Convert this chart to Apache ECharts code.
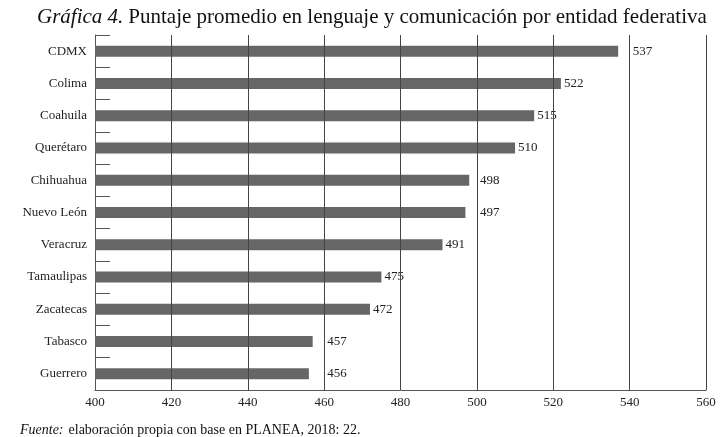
<!DOCTYPE html>
<html>
<head>
<meta charset="utf-8">
<script src="https://cdn.jsdelivr.net/npm/echarts@6/dist/echarts.min.js"></script>
<style>
html,body{margin:0;padding:0;background:#fff;}
#c{width:728px;height:437px;}
</style>
</head>
<body>
<div id="c"></div>
<script>
const categories = ['CDMX','Colima','Coahuila','Querétaro','Chihuahua','Nuevo León','Veracruz','Tamaulipas','Zacatecas','Tabasco','Guerrero'];
const values = [537,522,515,510,498,497,491,475,472,457,456];
const xTicks = [400,420,440,460,480,500,520,540,560];

const SERIF = '"Liberation Serif","DejaVu Serif",serif';
const chart = echarts.init(document.getElementById('c'));

function buildOption(pxPer){
  const step = xTicks[1]-xTicks[0];
  const data = values.map(v=>{
    const g = Math.ceil(v/step)*step;
    let off = 0;
    if (pxPer && g - v <= 4 && g - v > 0) off = (g - v)*pxPer;
    return {value:v, label:{offset:[off,0]}};
  });
  return {
    animation:false,
    backgroundColor:'#fff',
    title:[{
      text:'{i|Gráfica 4.} {n|Puntaje promedio en lenguaje y comunicación por entidad federativa}',
      left:32, top:2,
      textStyle:{fontWeight:'normal',rich:{
        i:{fontFamily:SERIF,fontStyle:'italic',fontWeight:'normal',fontSize:21,color:'#111'},
        n:{fontFamily:SERIF,fontWeight:'normal',fontSize:21,color:'#111'}
      }}
    },{
      text:'{i|Fuente:} {n|elaboración propia con base en PLANEA, 2018: 22.}',
      left:15, top:416,
      textStyle:{fontWeight:'normal',rich:{
        i:{fontFamily:SERIF,fontStyle:'italic',fontWeight:'normal',fontSize:14,color:'#111'},
        n:{fontFamily:SERIF,fontWeight:'normal',fontSize:14,color:'#111'}
      }}
    }],
    grid:{left:95,right:22,top:35,bottom:47},
    xAxis:{
      type:'value',min:xTicks[0],max:xTicks[xTicks.length-1],interval:xTicks[1]-xTicks[0],
      axisLine:{show:true,lineStyle:{color:'#555',width:1}},
      axisTick:{show:false},
      splitLine:{show:false},
      axisLabel:{fontFamily:SERIF,fontSize:13,color:'#222',margin:6}
    },
    yAxis:{
      type:'category',data:categories,inverse:true,
      axisLine:{show:true,lineStyle:{color:'#555',width:1}},
      axisTick:{show:true,inside:true,length:15,lineStyle:{color:'#555'}},
      axisLabel:{fontFamily:SERIF,fontSize:13,color:'#222',margin:8}
    },
    series:[{
      type:'bar',
      data:data,
      barWidth:11,
      itemStyle:{color:'#666666'},
      label:{show:true,position:'right',distance:3,fontFamily:SERIF,fontSize:13,color:'#222'},
      markLine:{
        silent:true,symbol:['none','none'],
        label:{show:false},
        lineStyle:{color:'#444',type:'solid',width:1},
        emphasis:{disabled:true},
        data:xTicks.filter(t=>t>xTicks[0]).map(t=>({xAxis:t}))
      }
    }]
  };
}
chart.setOption(buildOption(0));
const pxPer = (chart.convertToPixel({xAxisIndex:0},420)-chart.convertToPixel({xAxisIndex:0},400))/20;
chart.setOption(buildOption(pxPer));
</script>
</body>
</html>
